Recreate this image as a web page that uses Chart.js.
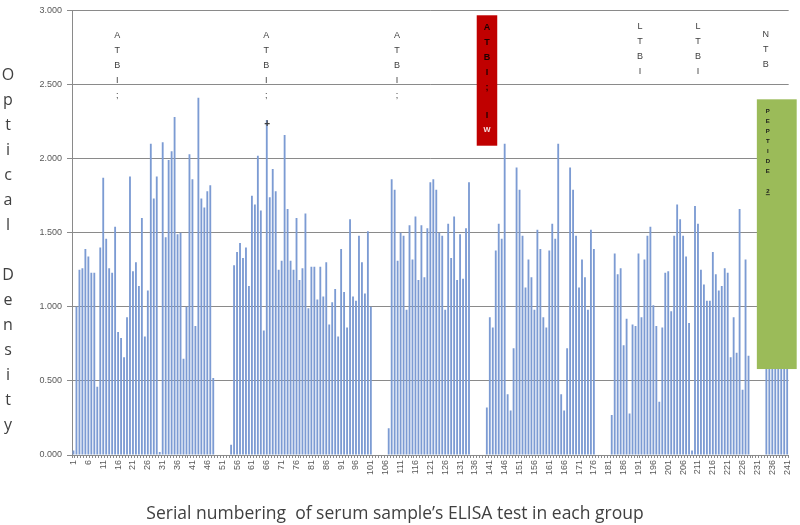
<!DOCTYPE html>
<html>
<head>
<meta charset="utf-8">
<script src="https://cdn.jsdelivr.net/npm/chart.js@4"></script>
<style>
  html, body { margin: 0; padding: 0; background: #fff; }
  #wrap { width: 800px; height: 525px; position: relative; }
</style>
</head>
<body>
<div id="wrap"><canvas id="odChart"></canvas></div>
<script>
// serial numbers of the serum samples (1..241)
const SAMPLES = Array.from({ length: 241 }, (_, i) => String(i + 1));
const LABEL_EVERY = 5;

// optical density per sample
const OD_VALUES = [
    0.03, 1.00, 1.25, 1.26, 1.39, 1.34, 1.23, 1.23, 0.46, 1.40,
    1.87, 1.46, 1.26, 1.23, 1.54, 0.83, 0.79, 0.66, 0.93, 1.88,
    1.24, 1.30, 1.14, 1.60, 0.80, 1.11, 2.10, 1.73, 1.88, 0.02,
    2.11, 1.47, 1.99, 2.05, 2.28, 1.49, 1.50, 0.65, 1.00, 2.03,
    1.86, 0.87, 2.41, 1.73, 1.67, 1.78, 1.82, 0.52, 0, 0,
    0, 0, 0, 0.07, 1.28, 1.37, 1.43, 1.33, 1.40, 1.14,
    1.75, 1.69, 2.02, 1.65, 0.84, 2.26, 1.74, 1.93, 1.78, 1.25,
    1.31, 2.16, 1.66, 1.31, 1.25, 1.60, 1.18, 1.26, 1.63, 0.99,
    1.27, 1.27, 1.05, 1.27, 1.07, 1.30, 0.88, 1.03, 1.12, 0.80,
    1.39, 1.10, 0.86, 1.59, 1.07, 1.04, 1.48, 1.30, 1.09, 1.51,
    1.00, 0, 0, 0, 0, 0, 0.18, 1.86, 1.79, 1.31,
    1.50, 1.48, 0.98, 1.55, 1.32, 1.61, 1.18, 1.55, 1.20, 1.53,
    1.84, 1.86, 1.79, 1.50, 1.48, 0.98, 1.56, 1.33, 1.61, 1.18,
    1.49, 1.19, 1.53, 1.84, 0, 0, 0, 0, 0, 0.32,
    0.93, 0.86, 1.38, 1.56, 1.46, 2.10, 0.41, 0.30, 0.72, 1.94,
    1.79, 1.48, 1.13, 1.32, 1.20, 0.98, 1.52, 1.39, 0.93, 0.86,
    1.38, 1.56, 1.46, 2.10, 0.41, 0.30, 0.72, 1.94, 1.79, 1.48,
    1.13, 1.32, 1.20, 0.98, 1.52, 1.39, 0, 0, 0, 0,
    0, 0.27, 1.36, 1.22, 1.26, 0.74, 0.92, 0.28, 0.88, 0.87,
    1.36, 0.93, 1.32, 1.48, 1.54, 1.01, 0.87, 0.36, 0.86, 1.23,
    1.24, 0.97, 1.48, 1.69, 1.59, 1.48, 1.34, 0.89, 0.03, 1.68,
    1.56, 1.25, 1.15, 1.04, 1.04, 1.37, 1.22, 1.11, 1.14, 1.26,
    1.23, 0.66, 0.93, 0.69, 1.66, 0.44, 1.32, 0.67, 0, 0,
    0, 0, 0, 1.30, 1.50, 1.20, 1.60, 1.40, 1.10, 1.30,
    1.20
];

// group labels written above the bars (sample position, text)
const GROUP_TEXT = ['ATBI;', 'ATBI;+', 'ATBI;', 'LTBI', 'LTBI', 'NTB'];
const GROUP_AT = [15.7, 65.8, 109.8, 191.5, 211.0, 233.8];
const GROUP_TOP = [2.83, 2.83, 2.83, 2.89, 2.89, 2.84];

// coloured boxes: [from sample, to sample, top OD, bottom OD]
const RED_BOX = [136.6, 143.5, 2.967, 2.087];
const RED_TEXT = ['A', 'T', 'B', 'I', ';', '', 'I', 'w'];
const GREEN_BOX = [230.8, 244.2, 2.40, 0.58];
const GREEN_TEXT = ['P', 'E', 'P', 'T', 'I', 'D', 'E', '', '2'];

const Y_TITLE = 'Optical Density';
const X_TITLE = 'Serial numbering  of serum sample\u2019s ELISA test in each group';

const BAR_BLUE = '#7c9bd3';
const GRID_GREY = '#8a8a8a';
const TEXT_GREY = '#404040';

const annotations = {
    id: 'annotations',
    afterDatasetsDraw(chart) {
        const { ctx, scales: { x, y } } = chart;
        const step = x.getPixelForValue(1) - x.getPixelForValue(0);
        const xAt = (s) => x.getPixelForValue(0) + (s - 1) * step;

        ctx.save();
        ctx.textAlign = 'center';
        ctx.textBaseline = 'middle';

        // stacked group labels
        ctx.font = '9px "Liberation Sans", Arial, sans-serif';
        ctx.fillStyle = TEXT_GREY;
        GROUP_TEXT.forEach((txt, g) => {
            const cx = xAt(GROUP_AT[g]);
            let cy = y.getPixelForValue(GROUP_TOP[g]);
            for (const ch of txt) {
                if (ch === '+') {
                    ctx.font = 'bold 10px "Liberation Sans", Arial, sans-serif';
                    ctx.fillText(ch, cx + 1, y.getPixelForValue(2.23));
                    ctx.font = '9px "Liberation Sans", Arial, sans-serif';
                    continue;
                }
                ctx.fillText(ch, cx, cy);
                cy += 15;
            }
        });

        // red box
        let l = xAt(RED_BOX[0]), r = xAt(RED_BOX[1]);
        let t = y.getPixelForValue(RED_BOX[2]), b = y.getPixelForValue(RED_BOX[3]);
        ctx.fillStyle = '#c00000';
        ctx.fillRect(l, t, r - l, b - t);
        let cy = t + 12;
        RED_TEXT.forEach((ch, i) => {
            ctx.fillStyle = i === RED_TEXT.length - 1 ? '#f2d6d6' : '#1e0000';
            ctx.font = 'bold 9px "Liberation Sans", Arial, sans-serif';
            ctx.fillText(ch, (l + r) / 2, cy);
            cy += i < 4 ? 15 : 14;
        });

        // green box
        l = xAt(GREEN_BOX[0]); r = xAt(GREEN_BOX[1]);
        t = y.getPixelForValue(GREEN_BOX[2]); b = y.getPixelForValue(GREEN_BOX[3]);
        ctx.fillStyle = '#9bbb59';
        ctx.fillRect(l, t, r - l, b - t);
        ctx.fillStyle = '#1a1a1a';
        ctx.font = 'bold 6px "Liberation Sans", Arial, sans-serif';
        cy = t + 12;
        const gx = l + 11;
        GREEN_TEXT.forEach((ch) => {
            ctx.fillText(ch, gx, cy);
            cy += 10;
        });
        ctx.fillRect(gx - 2, cy - 7, 4, 0.8);

        // stacked y-axis title
        ctx.fillStyle = TEXT_GREY;
        ctx.font = '16px "Open Sans", sans-serif';
        let ty = 75;
        for (const ch of Y_TITLE) {
            if (ch !== ' ') ctx.fillText(ch, 8, ty);
            ty += 25;
        }

        // x-axis title, centred on the whole figure like the original
        ctx.font = '17.5px "Open Sans", sans-serif';
        ctx.fillText(X_TITLE, 395, 514);
        ctx.restore();
    }
};

new Chart(document.getElementById('odChart'), {
    type: 'bar',
    data: {
        labels: SAMPLES,
        datasets: [{
            data: OD_VALUES,
            backgroundColor: BAR_BLUE,
            barPercentage: 0.62,
            categoryPercentage: 1.0
        }]
    },
    options: {
        responsive: true,
        maintainAspectRatio: false,
        animation: false,
        layout: { padding: { top: 5, right: 9, left: 0, bottom: 0 } },
        plugins: { legend: { display: false }, tooltip: { enabled: false } },
        scales: {
            x: {
                grid: { drawOnChartArea: false, color: GRID_GREY, tickLength: 3 },
                border: { color: GRID_GREY },
                ticks: {
                    autoSkip: false,
                    minRotation: 90,
                    maxRotation: 90,
                    padding: 2,
                    color: '#595959',
                    font: { size: 9, family: '"Liberation Sans", Arial, sans-serif' },
                    callback: (v, i) => (i % LABEL_EVERY === 0 ? SAMPLES[i] : '')
                },
                afterFit: (scale) => { scale.height = 70; }
            },
            y: {
                min: 0,
                max: 3,
                grid: { color: GRID_GREY, tickLength: 5 },
                border: { color: GRID_GREY },
                ticks: {
                    stepSize: 0.5,
                    padding: 5,
                    color: '#595959',
                    font: { size: 9, family: '"Liberation Sans", Arial, sans-serif' },
                    callback: (v) => v.toFixed(3)
                },
                afterFit: (scale) => { scale.width = 72; }
            }
        }
    },
    plugins: [annotations]
});
</script>
</body>
</html>
